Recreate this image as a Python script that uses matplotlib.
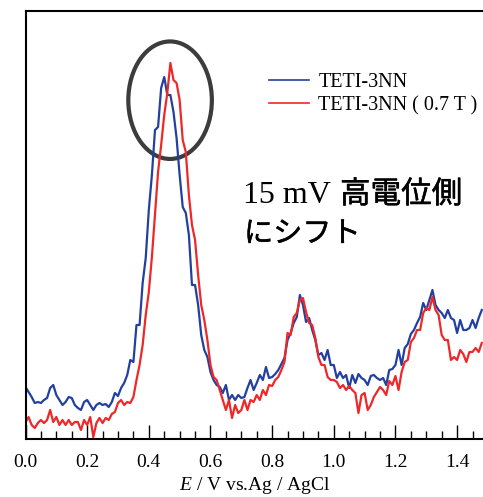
import numpy as np
import matplotlib
matplotlib.use('Agg')
import matplotlib.pyplot as plt
import matplotlib.patheffects as pe
from matplotlib.patches import Ellipse

plt.rcParams['mathtext.fontset'] = 'custom'
plt.rcParams['mathtext.it'] = 'Liberation Serif:italic'
plt.rcParams['mathtext.rm'] = 'Liberation Serif'

# Potential axis (V vs. Ag/AgCl), sampled every 10 mV
potential = np.round(np.arange(0, 149) * 0.01, 2)

# Current (arbitrary units)
current_teti = [
    52, 47, 42, 36, 37, 36, 39, 41, 51, 54,
    44, 39, 34, 37, 42, 41, 34, 31, 29, 37,
    39, 34, 29, 34, 36, 34, 35, 32, 37, 46,
    43, 51, 56, 64, 79, 77, 114, 114, 156, 181,
    229, 264, 309, 312, 351, 362, 344, 344, 327, 301,
    264, 232, 226, 204, 154, 154, 134, 104, 89, 82,
    67, 59, 54, 52, 46, 54, 39, 44, 39, 44,
    41, 42, 51, 59, 49, 56, 64, 59, 72, 61,
    62, 65, 69, 75, 81, 99, 106, 116, 122, 144,
    134, 117, 121, 109, 99, 84, 86, 79, 89, 74,
    74, 61, 67, 61, 64, 51, 64, 56, 65, 61,
    59, 54, 63, 64, 61, 59, 61, 54, 69, 70,
    74, 89, 74, 91, 95, 105, 109, 116, 122, 136,
    129, 139, 149, 134, 129, 126, 121, 129, 121, 119,
    106, 119, 109, 109, 111, 119, 111, 121, 129,
]
current_teti_field = [
    17, 22, 14, 11, 16, 19, 16, 19, 29, 17,
    22, 14, 19, 14, 19, 14, 17, 17, 9, 19,
    14, 22, 2, 16, 21, 16, 21, 19, 25, 27,
    36, 39, 34, 37, 36, 42, 59, 74, 94, 124,
    147, 182, 224, 267, 294, 324, 346, 376, 359, 356,
    339, 299, 287, 244, 214, 199, 164, 134, 119, 99,
    74, 62, 59, 49, 39, 29, 39, 21, 34, 26,
    29, 39, 29, 39, 37, 44, 39, 49, 44, 54,
    53, 59, 62, 69, 77, 106, 104, 122, 126, 139,
    141, 127, 116, 114, 101, 82, 74, 74, 62, 59,
    59, 57, 51, 54, 49, 53, 49, 46, 26, 44,
    46, 29, 34, 42, 47, 52, 49, 44, 58, 54,
    63, 49, 67, 77, 79, 97, 101, 109, 109, 126,
    131, 129, 142, 129, 124, 104, 99, 99, 79, 82,
    79, 89, 85, 77, 87, 87, 91, 87, 96,
]

labels = ['TETI-3NN', 'TETI-3NN ( 0.7 T )']
colors = ['#2340A0', '#EE2828']
xticks = [0.0, 0.2, 0.4, 0.6, 0.8, 1.0, 1.2, 1.4]

W, H = 483, 497
fig = plt.figure(figsize=(W / 100, H / 100), dpi=100)
ax = fig.add_axes([25.5 / W, (H - 439) / H, (W - 25.5) / W, 428 / H])

ax.plot(potential, current_teti, color=colors[0], lw=1.6, label=labels[0])
ax.plot(potential, current_teti_field, color=colors[1], lw=1.6, label=labels[1])

ax.set_xlim(0, 1.484)
ax.set_ylim(0, 428)
ax.set_yticks([])
ax.set_xticks(xticks)
ax.set_xticklabels([f'{t:.1f}' for t in xticks], family='Liberation Serif', fontsize=14)
ax.set_xticks(np.arange(0, 1.49, 0.05), minor=True)
ax.tick_params(axis='x', which='major', direction='in', length=10, width=1, pad=11)
ax.tick_params(axis='x', which='minor', direction='in', length=5.5, width=1)
ax.spines['right'].set_visible(False)
for s in ['left', 'top', 'bottom']:
    ax.spines[s].set_linewidth(1.5)

ax.set_xlabel(r'$\mathit{E}$ / V vs.Ag / AgCl', family='Liberation Serif', fontsize=14, labelpad=3)

leg = ax.legend(loc='upper left', bbox_to_anchor=(269 / W, 1 - 73 / H),
                bbox_transform=fig.transFigure, frameon=False, handlelength=2.0,
                handletextpad=0.45, labelspacing=0.2, borderpad=0, borderaxespad=0,
                prop={'family': 'Liberation Serif', 'size': 14.5})
for line in leg.get_lines():
    line.set_linewidth(1.2)

# circle around the peak
ax.add_patch(Ellipse((0.469, 338.8), 0.271, 117.5, fill=False,
                     edgecolor='#3C3C3C', lw=3))

# annotation text, regular CJK weight thickened a little
thick = [pe.withStroke(linewidth=0.35, foreground='black')]
fig.text(243 / W, 1 - 203 / H, '15 mV', family='Liberation Serif', fontsize=23,
         ha='left', va='baseline')
fig.text(340 / W, 1 - 203 / H, '高電位側', family=['Noto Sans CJK JP', 'DejaVu Sans'],
         fontsize=22, ha='left', va='baseline', path_effects=thick)
fig.text(244 / W, 1 - 242 / H, 'にシフト', family=['Noto Sans CJK JP', 'DejaVu Sans'],
         fontsize=21, ha='left', va='baseline', path_effects=thick)

fig.savefig('out.png', dpi=100)
